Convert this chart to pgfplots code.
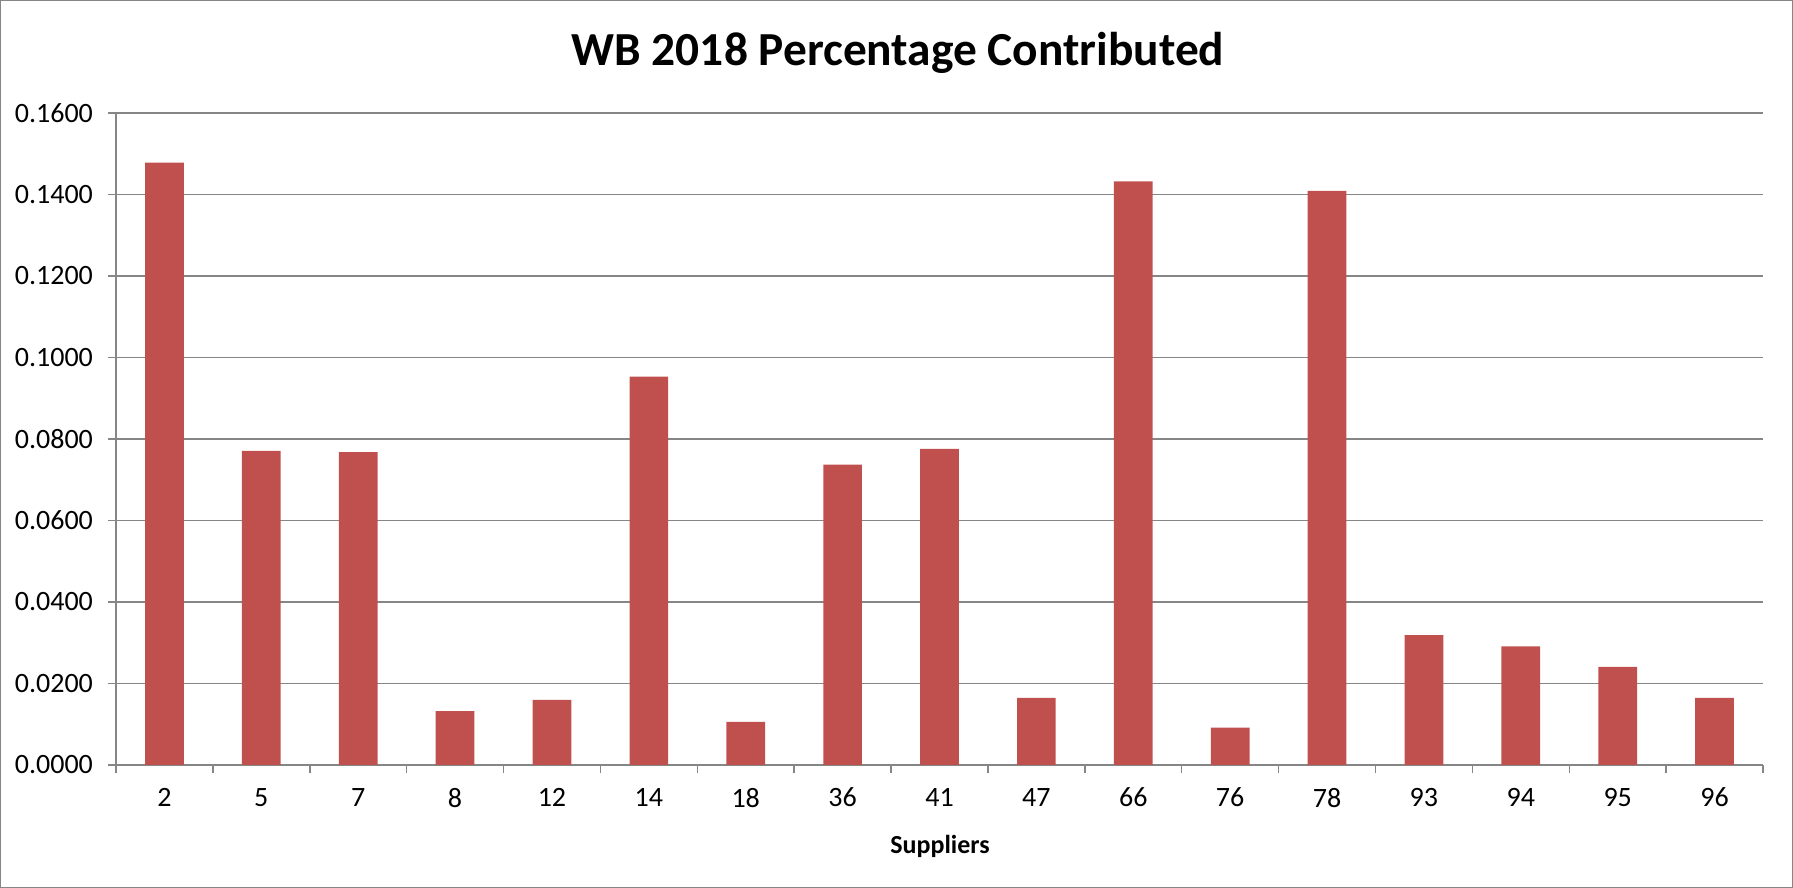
\documentclass[border=0pt]{standalone}
\usepackage{pgfplots}
\pgfplotsset{compat=1.18}
\usepackage{fontspec}
\setmainfont{Carlito}
\definecolor{barred}{HTML}{C0504D}
\definecolor{gridgray}{HTML}{868686}
\begin{document}
\begin{tikzpicture}
\path[use as bounding box] (0,0) rectangle (896.5pt,444pt);
\draw[gridgray, line width=0.6pt] (0.3pt,0.3pt) rectangle (896.2pt,443.7pt);
\begin{axis}[
  at={(58pt,61.5pt)}, anchor=south west,
  scale only axis, width=823.5pt, height=326pt,
  xmin=-0.5, xmax=16.5, ymin=0, ymax=0.16,
  axis lines=left, axis line style={-, gridgray, line width=0.75pt},
  ytick={0,0.02,...,0.161},
  ymajorgrids, grid style={gridgray, line width=0.75pt},
  tick align=outside, major tick length=4pt,
  ytick style={gridgray, line width=0.75pt},
  xtick={0,...,16},
  xticklabels={2,5,7,8,12,14,18,36,41,47,66,76,78,93,94,95,96},
  xtick style={draw=none},
  extra x ticks={-0.5,0.5,...,16.6},
  extra x tick labels={},
  extra x tick style={xtick style={draw=gridgray, line width=0.75pt}, major tick length=4pt, grid=none},
  ticklabel style={font=\fontsize{14pt}{16pt}\selectfont},
  yticklabel style={/pgf/number format/fixed, /pgf/number format/fixed zerofill, /pgf/number format/precision=4, /pgf/number format/assume math mode=true},
  xticklabel style={yshift=-4pt},
  yticklabel style={xshift=-4pt},
]
\addplot[ybar, bar width=19.35pt, fill=barred, draw=none] coordinates {
(0,0.1478) (1,0.0771) (2,0.0768) (3,0.0132) (4,0.0160) (5,0.0953) (6,0.0106)
(7,0.0737) (8,0.0776) (9,0.0165) (10,0.1432) (11,0.0092) (12,0.1409)
(13,0.0319) (14,0.0291) (15,0.0241) (16,0.0165)};
\end{axis}
\node[font=\bfseries\fontsize{23.7pt}{28pt}\selectfont] at (449pt,417.5pt) {WB 2018 Percentage Contributed};
\node[font=\bfseries\fontsize{13pt}{15pt}\selectfont] at (470pt,21pt) {Suppliers};
\end{tikzpicture}
\end{document}
